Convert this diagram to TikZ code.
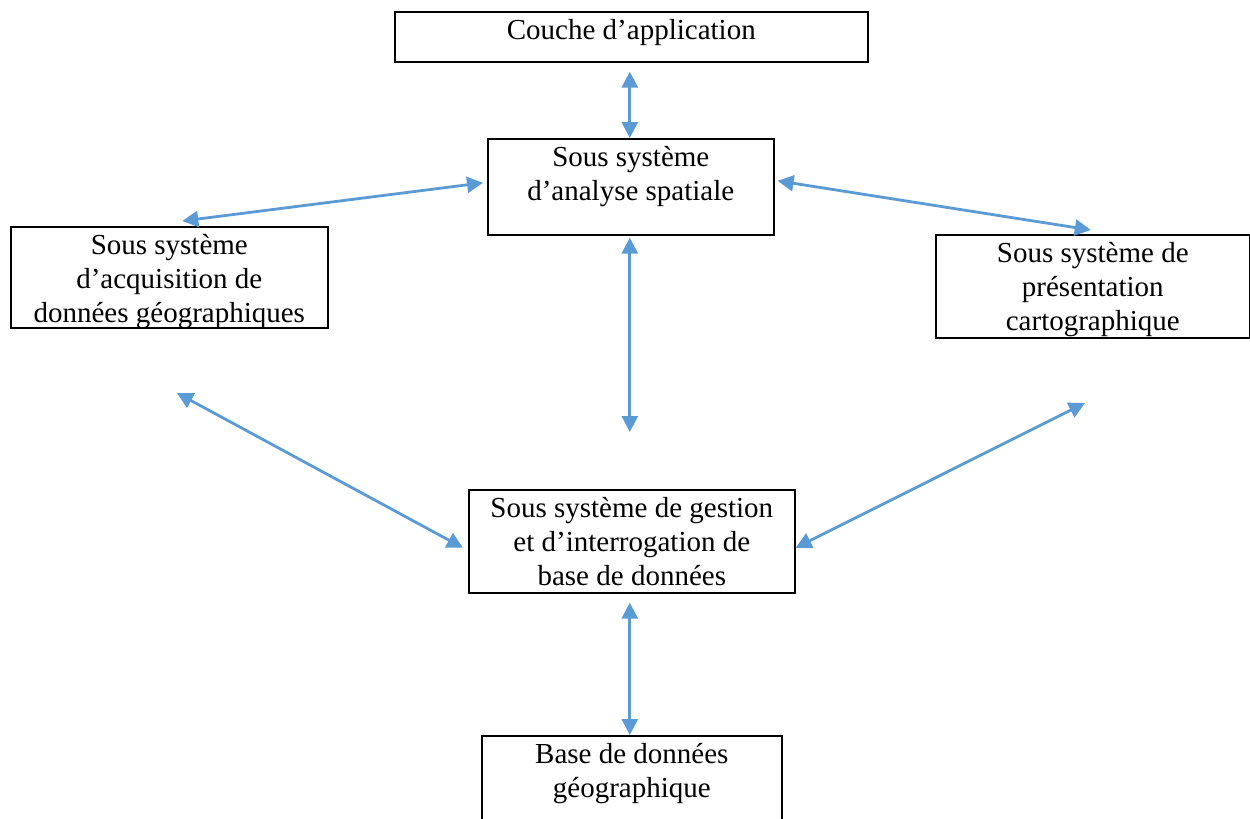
\documentclass[tikz,border=0pt]{standalone}
\usepackage{fontspec}
\setmainfont{Liberation Serif}
\usetikzlibrary{arrows.meta, positioning}
\definecolor{linkblue}{HTML}{5B9BD5}
\tikzset{blk/.style={draw, line width=1.6pt, inner sep=0pt, anchor=north west, font=\fontsize{29}{34}\selectfont},
  link/.style={draw=linkblue, line width=2.8pt, {Triangle[length=16pt,width=16pt]}-{Triangle[length=16pt,width=16pt]}}}
\newcommand{\boxtxt}[3]{\parbox[c][#2][t]{#1}{\centering\vspace*{3.5pt}\strut #3}}

\begin{document}
\begin{tikzpicture}[x=1pt, y=-1pt]
    \clip (0,0) rectangle (1250,819);
    \node[blk] (app) at (394,11) {\boxtxt{473pt}{50pt}{Couche d’application}};
    \node[blk] (ana) at (487,138) {\boxtxt{286pt}{96pt}{Sous système\\d’analyse spatiale}};
    \node[blk] (acq) at (10,226) {\boxtxt{317pt}{101pt}{Sous système\\d’acquisition de\\données géographiques}};
    \node[blk] (pres) at (935,234) {\boxtxt{314pt}{103pt}{Sous système de\\présentation\\cartographique}};
    \node[blk] (gest) at (468,489) {\boxtxt{326pt}{103pt}{Sous système de gestion\\et d’interrogation de\\base de données}};
    \node[blk] (base) at (481,735) {\boxtxt{300pt}{100pt}{Base de données\\géographique}};
    \coordinate (acqend) at (177,393);
    \coordinate (presend) at (1085,403);
    \draw[link, shorten <=9pt] ([xshift=-1.5pt]app.south) -- ([xshift=-1pt]ana.north);
    \draw[link] ([xshift=-4pt,yshift=4pt]ana.west) -- ([xshift=13pt,yshift=5pt]acq.north);
    \draw[link] ([xshift=3pt,yshift=6pt]ana.east) -- ([xshift=-2pt,yshift=4pt]pres.north);
    \draw[link, shorten <=2pt, shorten >=57pt] ([xshift=-1pt]ana.south) -- ([xshift=-2pt]gest.north);
    \draw[link] (acqend) -- ([xshift=-5pt,yshift=-6.5pt]gest.west);
    \draw[link] (presend) -- ([yshift=-6.5pt]gest.east);
    \draw[link, shorten <=9pt] ([xshift=-2pt]gest.south) -- ([xshift=-2pt]base.north);
\end{tikzpicture}
\end{document}
